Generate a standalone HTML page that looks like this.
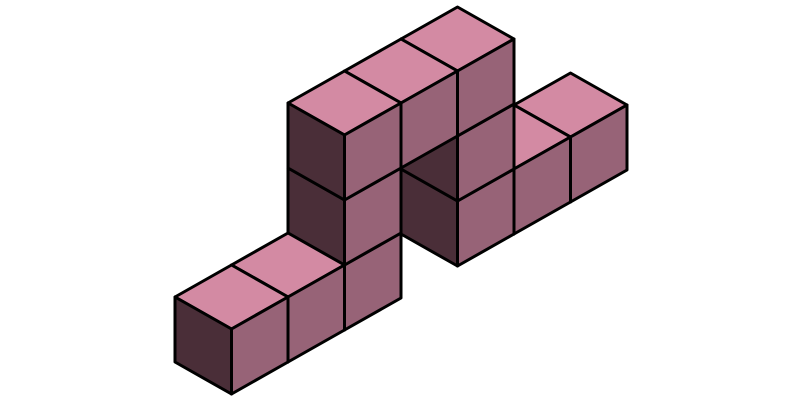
<!DOCTYPE html>
<html><head><meta charset="utf-8"><style>
html,body{margin:0;padding:0;background:#fff;width:800px;height:400px;overflow:hidden}
svg{display:block}
</style></head><body>
<svg id="chart" width="800" height="400" viewBox="0 0 800 400" xmlns="http://www.w3.org/2000/svg"></svg>
<script>
const cubeI = [0, 1, 2, 2, 2, 3, 4, 4, 4, 5, 6];
const cubeJ = [0, 0, 0, 0, 0, 0, 0, 0, 0, 0, 0];
const cubeK = [0, 0, 0, 1, 2, 2, 2, 1, 0, 0, 0];

const X0 = 175, Y0 = 362, DX = 56.5, DY = 32, DZ = 65;
function px(i, j, k) { return [X0 + DX * i + DX * j, Y0 - DY * i + DY * j - DZ * k]; }
const svg = document.getElementById('chart');
const NS = 'http://www.w3.org/2000/svg';
function poly(pts, fill, name) {
  const p = document.createElementNS(NS, 'polygon');
  p.setAttribute('points', pts.map(q => q.join(',')).join(' '));
  p.setAttribute('fill', fill);
  p.setAttribute('stroke', '#000');
  p.setAttribute('stroke-width', '3');
  p.setAttribute('stroke-linejoin', 'round');
  
  
  svg.appendChild(p);
}
const idx = cubeI.map((_, n) => n);
idx.sort((a, b) => (cubeI[b] - cubeI[a]) || (cubeK[a] - cubeK[b]) || (cubeJ[a] - cubeJ[b]));
idx.forEach(n => {
  const i = cubeI[n], j = cubeJ[n], k = cubeK[n];
  poly([px(i, j, k + 1), px(i + 1, j, k + 1), px(i + 1, j + 1, k + 1), px(i, j + 1, k + 1)], '#d38aa3', 'cube-top-face');
  poly([px(i, j, k), px(i, j + 1, k), px(i, j + 1, k + 1), px(i, j, k + 1)], '#4a2e38', 'cube-left-face');
  poly([px(i, j + 1, k), px(i + 1, j + 1, k), px(i + 1, j + 1, k + 1), px(i, j + 1, k + 1)], '#976377', 'cube-right-face');
});
</script>
</body></html>
